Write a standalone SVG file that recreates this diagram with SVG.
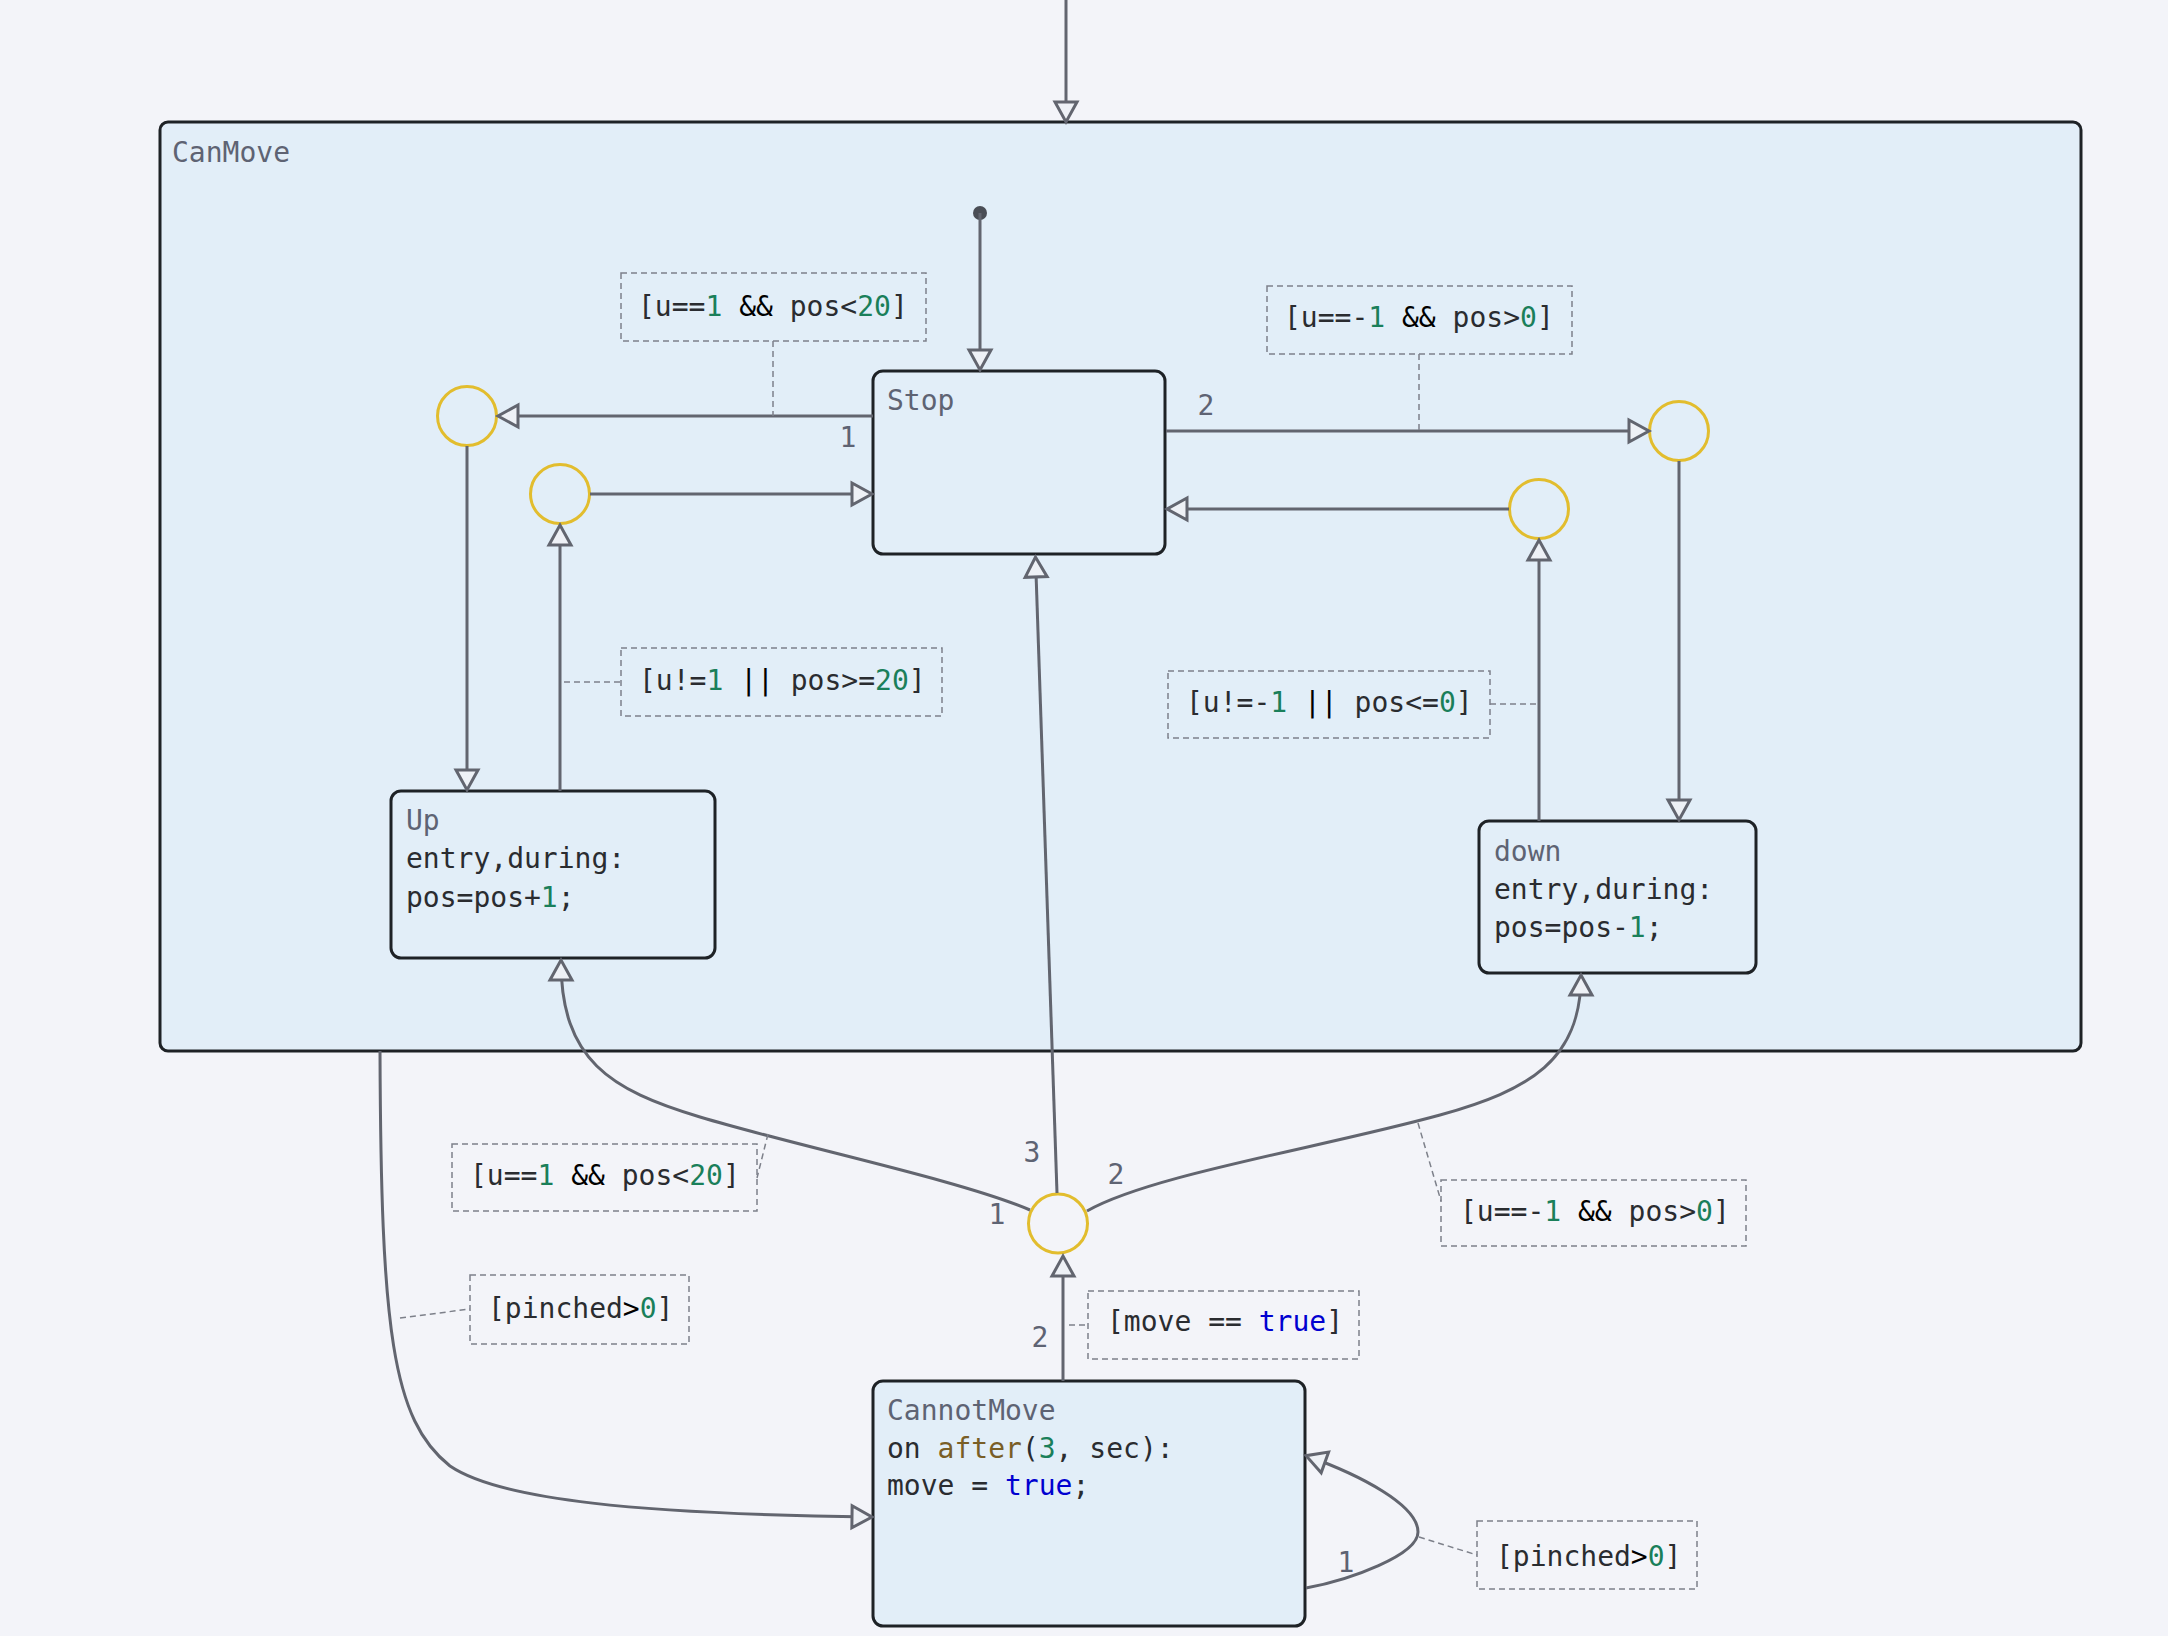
<svg xmlns="http://www.w3.org/2000/svg" width="2168" height="1636" viewBox="0 0 2168 1636">
<defs>
<style>
.bg{fill:#f3f4f9}
.state{fill:#e2eef8;stroke:#1e2226;stroke-width:3}
.junc{fill:none;stroke:#e2bd2e;stroke-width:3}
.conn{fill:none;stroke:#62656f;stroke-width:3;marker-end:url(#arr)}
.plain{fill:none;stroke:#62656f;stroke-width:3}
.lead{fill:none;stroke:#7d808a;stroke-width:1.5;stroke-dasharray:6 4}
.lbox{fill:none;stroke:#7d808a;stroke-width:1.5;stroke-dasharray:6 4}
text{font-family:"DejaVu Sans Mono","Liberation Mono",monospace;font-size:28px}
.name{fill:#5e6373}
.num{fill:#5e6373;text-anchor:middle}
.code{fill:#2a2c30}
.op{fill:#000000}
.n{fill:#1a7f5a}
.kw{fill:#0000d0}
.fn{fill:#795e26}
</style>
<marker id="arr" markerUnits="userSpaceOnUse" markerWidth="30" markerHeight="30" refX="23" refY="15" orient="auto" overflow="visible">
<path d="M4,4 L24,15 L4,26 Z" fill="#eef1f6" stroke="#62656f" stroke-width="3" stroke-linejoin="miter"/>
</marker>
</defs>
<rect class="bg" x="0" y="0" width="2168" height="1636"/>

<g id="CanMove">
<rect class="state" x="160" y="122" width="1921" height="929" rx="8"/>
<text class="name" x="172" y="162">CanMove</text>
</g>

<g id="Stop">
<rect class="state" x="873" y="371" width="292" height="183" rx="10"/>
<text class="name" x="887" y="410">Stop</text>
</g>

<g id="Up">
<rect class="state" x="391" y="791" width="324" height="167" rx="10"/>
<text class="name" x="406" y="830">Up</text>
<text class="code" x="406" y="868">entry,during:</text>
<text class="code" x="406" y="907">pos=pos+<tspan class="n">1</tspan>;</text>
</g>

<g id="down">
<rect class="state" x="1479" y="821" width="277" height="152" rx="10"/>
<text class="name" x="1494" y="861">down</text>
<text class="code" x="1494" y="899">entry,during:</text>
<text class="code" x="1494" y="937">pos=pos-<tspan class="n">1</tspan>;</text>
</g>

<g id="CannotMove">
<rect class="state" x="873" y="1381" width="432" height="245" rx="10"/>
<text class="name" x="887" y="1420">CannotMove</text>
<text class="code" x="887" y="1458">on <tspan class="fn">after</tspan>(<tspan class="n">3</tspan>, sec):</text>
<text class="code" x="887" y="1495">move = <tspan class="kw">true</tspan>;</text>
</g>

<g id="init">
<circle cx="980" cy="213" r="7" fill="#4a4d55"/>
</g>

<g id="junction1"><circle class="junc" cx="467" cy="416" r="29.5"/></g>
<g id="junction2"><circle class="junc" cx="560" cy="494" r="29.5"/></g>
<g id="junction3"><circle class="junc" cx="1679" cy="431" r="29.5"/></g>
<g id="junction4"><circle class="junc" cx="1539" cy="509" r="29.5"/></g>
<g id="junction5"><circle class="junc" cx="1058" cy="1223.5" r="29.5"/></g>

<g id="connectors">
<path class="conn" d="M1066,0 L1066,121"/>
<path class="conn" d="M980,213 L980,369"/>
<path class="conn" d="M873,416 L499,416"/>
<path class="conn" d="M467,446 L467,789"/>
<path class="conn" d="M560,791 L560,526"/>
<path class="conn" d="M590,494 L871,494"/>
<path class="conn" d="M1166,431 L1648,431"/>
<path class="conn" d="M1679,461 L1679,819"/>
<path class="conn" d="M1539,821 L1539,541"/>
<path class="conn" d="M1509,509 L1168,509"/>
<path class="conn" d="M1057,1193 L1035.5,558"/>
<path class="conn" d="M1030,1210 C960,1180 800,1147 700,1117 C610,1090 561,1060 561,961"/>
<path class="conn" d="M1087,1211 C1150,1175 1320,1148 1440,1115 C1530,1090 1581,1060 1581,976"/>
<path class="conn" d="M1063,1381 L1063,1257"/>
<path class="conn" d="M380,1051 C381,1330 392,1420 450,1466 C500,1500 640,1514 871,1517"/>
<path class="conn" d="M1306,1588 C1350,1580 1418,1555 1418,1532 C1418,1505 1360,1475 1307,1456"/>
</g>

<g id="transition-numbers">
<text class="num" x="848" y="447">1</text>
<text class="num" x="1206" y="415">2</text>
<text class="num" x="1032" y="1162">3</text>
<text class="num" x="1116" y="1184">2</text>
<text class="num" x="997" y="1224">1</text>
<text class="num" x="1040" y="1347">2</text>
<text class="num" x="1346" y="1572">1</text>
</g>

<g id="guard1">
<path class="lead" d="M773,341 L773,416"/>
<rect class="lbox" x="621" y="273" width="305" height="68"/>
<text class="code" x="638" y="316">[u==<tspan class="n">1</tspan> <tspan class="op">&amp;&amp;</tspan> pos&lt;<tspan class="n">20</tspan>]</text>
</g>

<g id="guard2">
<path class="lead" d="M1419,354 L1419,431"/>
<rect class="lbox" x="1267" y="286" width="305" height="68"/>
<text class="code" x="1284" y="327">[u==-<tspan class="n">1</tspan> <tspan class="op">&amp;&amp;</tspan> pos&gt;<tspan class="n">0</tspan>]</text>
</g>

<g id="guard3">
<path class="lead" d="M564,682 L621,682"/>
<rect class="lbox" x="621" y="648" width="321" height="68"/>
<text class="code" x="639" y="690">[u!=<tspan class="n">1</tspan> <tspan class="op">||</tspan> pos&gt;=<tspan class="n">20</tspan>]</text>
</g>

<g id="guard4">
<path class="lead" d="M1490,704 L1537,704"/>
<rect class="lbox" x="1168" y="671" width="322" height="67"/>
<text class="code" x="1186" y="712">[u!=-<tspan class="n">1</tspan> <tspan class="op">||</tspan> pos&lt;=<tspan class="n">0</tspan>]</text>
</g>

<g id="guard5">
<path class="lead" d="M768,1134 L757,1178"/>
<rect class="lbox" x="452" y="1144" width="305" height="67"/>
<text class="code" x="470" y="1185">[u==<tspan class="n">1</tspan> <tspan class="op">&amp;&amp;</tspan> pos&lt;<tspan class="n">20</tspan>]</text>
</g>

<g id="guard6">
<path class="lead" d="M1418,1123 L1441,1201"/>
<rect class="lbox" x="1441" y="1180" width="305" height="66"/>
<text class="code" x="1460" y="1221">[u==-<tspan class="n">1</tspan> <tspan class="op">&amp;&amp;</tspan> pos&gt;<tspan class="n">0</tspan>]</text>
</g>

<g id="guard7">
<path class="lead" d="M400,1318 L470,1309"/>
<rect class="lbox" x="470" y="1275" width="219" height="69"/>
<text class="code" x="488" y="1318">[pinched<tspan class="op">&gt;</tspan><tspan class="n">0</tspan>]</text>
</g>

<g id="guard8">
<path class="lead" d="M1069,1325 L1088,1325"/>
<rect class="lbox" x="1088" y="1291" width="271" height="68"/>
<text class="code" x="1107" y="1331">[move == <tspan class="kw">true</tspan>]</text>
</g>

<g id="guard9">
<path class="lead" d="M1419,1537 L1477,1555"/>
<rect class="lbox" x="1477" y="1521" width="220" height="68"/>
<text class="code" x="1496" y="1566">[pinched<tspan class="op">&gt;</tspan><tspan class="n">0</tspan>]</text>
</g>
</svg>
